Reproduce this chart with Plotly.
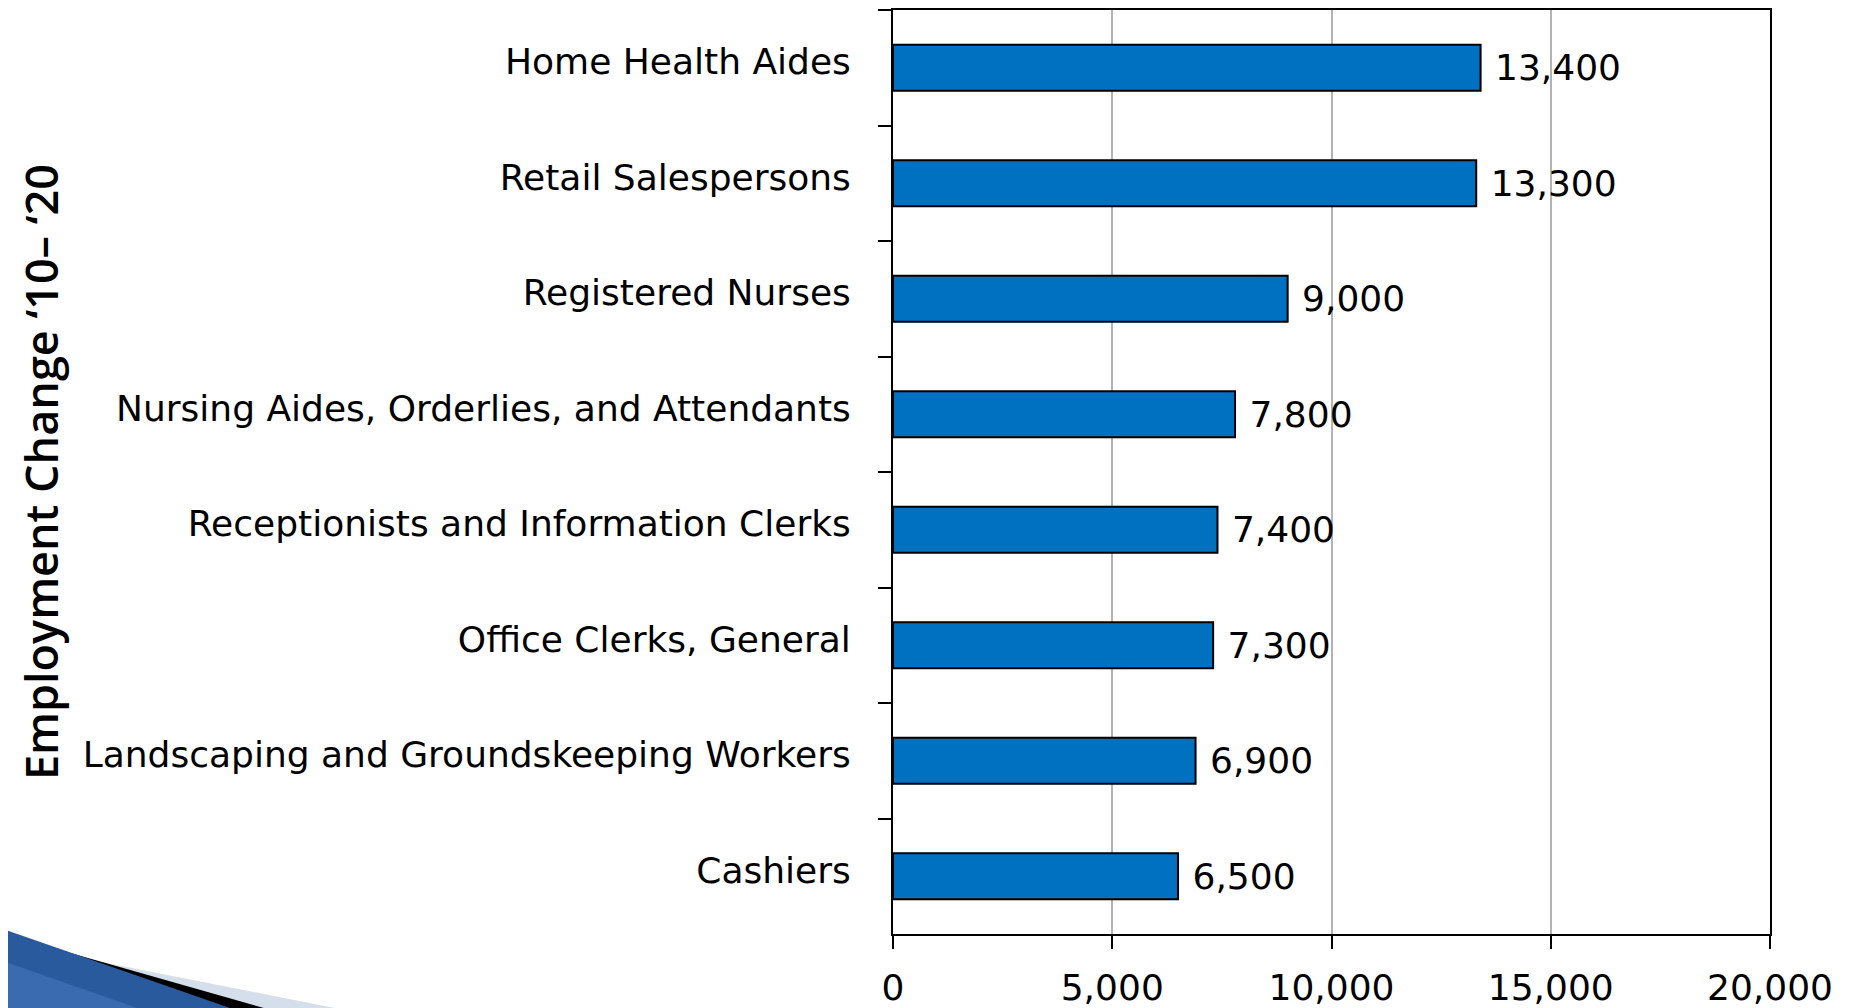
import plotly.graph_objects as go

# ---- data ----
categories = [
    "Home Health Aides",
    "Retail Salespersons",
    "Registered Nurses",
    "Nursing Aides, Orderlies, and Attendants",
    "Receptionists and Information Clerks",
    "Office Clerks, General",
    "Landscaping and Groundskeeping Workers",
    "Cashiers",
]
employment_change = [13400, 13300, 9000, 7800, 7400, 7300, 6900, 6500]
x_tick_values = [0, 5000, 10000, 15000, 20000]
x_tick_labels = ["0", "5,000", "10,000", "15,000", "20,000"]
axis_title = "Employment Change \u201810\u2013 \u201820"

# ---- layout geometry (figure pixels; page body adds an 8px offset) ----
OFF = 8
W, H = 1854, 1008
ML, MR, MT, MB = 885, 92, 2, 82
PW, PH = W - ML - MR, H - MT - MB

FONT = "DejaVu Sans"


def px_to_paper(sx, sy):
    fx, fy = sx - OFF, sy - OFF
    return (fx - ML) / PW, (H - MB - fy) / PH


def path_from_pixels(points):
    parts = []
    for i, (px, py) in enumerate(points):
        x, y = px_to_paper(px, py)
        parts.append(("M" if i == 0 else "L") + f"{x:.5f},{y:.5f}")
    return " ".join(parts) + " Z"


fig = go.Figure()
fig.add_trace(
    go.Bar(
        x=employment_change,
        y=categories,
        orientation="h",
        marker=dict(color="#0070C0", line=dict(color="black", width=2)),
        texttemplate="\u00a0%{x:,}",
        textposition="outside",
        constraintext="none",
        cliponaxis=False,
        textfont=dict(family=FONT, size=36, color="black"),
        hoverinfo="skip",
    )
)

# decorative swoosh in the bottom-left corner (slide theme)
swoosh = [
    ([(0, 942), (375, 1016), (0, 1016)], "#D5DEEB"),
    ([(0, 933), (292, 1016), (0, 1016)], "#000000"),
    ([(0, 928), (253, 1016), (0, 1016)], "#2A5A9E"),
    ([(0, 960), (160, 1016), (0, 1016)], "#3A6AB0"),
]
shapes = []
for pts, col in swoosh:
    shapes.append(
        dict(
            type="path",
            xref="paper",
            yref="paper",
            path=path_from_pixels(pts),
            fillcolor=col,
            line=dict(width=0),
            layer="above",
        )
    )

title_x, _ = px_to_paper(40, 0)

fig.update_layout(
    width=W,
    height=H,
    margin=dict(l=ML, r=MR, t=MT, b=MB, autoexpand=False),
    paper_bgcolor="white",
    plot_bgcolor="white",
    showlegend=False,
    bargap=0.6,
    font=dict(family=FONT, size=36, color="black"),
    shapes=shapes,
    annotations=[
        dict(
            text=axis_title,
            xref="paper",
            yref="paper",
            x=title_x,
            y=0.5,
            xanchor="center",
            yanchor="middle",
            textangle=-90,
            showarrow=False,
            borderpad=0,
            font=dict(family="Open Sans", size=45, color="black", weight=600),
        )
    ],
    xaxis=dict(
        range=[0, 20000],
        tickvals=x_tick_values,
        ticktext=x_tick_labels,
        showgrid=True,
        gridcolor="#B3B3B3",
        gridwidth=1.5,
        zeroline=False,
        showline=True,
        linecolor="black",
        linewidth=2,
        mirror=True,
        ticks="outside",
        ticklen=13,
        tickwidth=2,
        tickcolor="black",
        ticklabelstandoff=8,
        tickfont=dict(family=FONT, size=36, color="black"),
        fixedrange=True,
    ),
    yaxis=dict(
        range=[7.5, -0.5],
        tickson="boundaries",
        ticks="outside",
        ticklen=13,
        tickwidth=2,
        tickcolor="black",
        showgrid=False,
        zeroline=False,
        showline=True,
        linecolor="black",
        linewidth=2,
        mirror=True,
        ticklabelstandoff=33,
        ticklabelshift=6,
        tickfont=dict(family=FONT, size=36, color="black"),
        fixedrange=True,
    ),
)

fig.write_html("out.html")
